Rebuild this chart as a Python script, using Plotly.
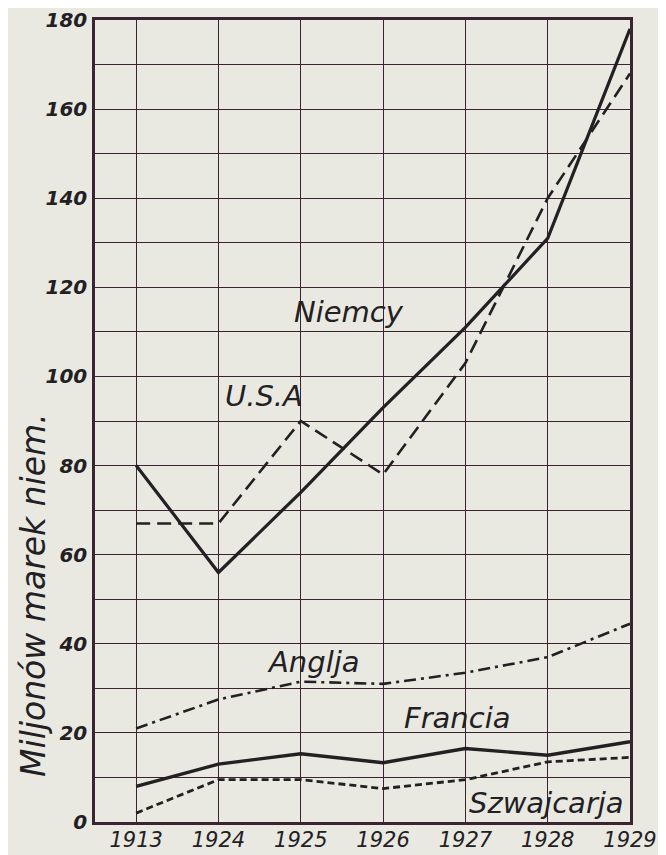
import plotly.graph_objects as go

years = ["1913", "1924", "1925", "1926", "1927", "1928", "1929"]
niemcy = [80, 56, 74, 93, 111, 131, 178]
usa = [67, 67, 90, 78, 103, 140, 168]
anglja = [21, 27.5, 31.5, 31, 33.5, 37, 44.5]
francia = [8, 13, 15.3, 13.3, 16.5, 15, 18]
szwajcarja = [2, 9.5, 9.5, 7.5, 9.5, 13.5, 14.5]

y_ticks = [0, 20, 40, 60, 80, 100, 120, 140, 160, 180]

labels = [
    ("Niemcy", 2.59, 114.5),
    ("U.S.A", 1.55, 95.5),
    ("Anglja", 2.15, 36),
    ("Francia", 3.9, 23.3),
    ("Szwajcarja", 4.98, 4.3),
]

ink = "#222022"
grid = "#3a2432"
paper_bg = "#e9e9e2"

fig = go.Figure()
series = [
    (niemcy, "solid", 3.2),
    (usa, "14px,7px", 2.6),
    (anglja, "12px,5px,3px,5px", 2.6),
    (francia, "solid", 3.4),
    (szwajcarja, "7px,4px", 2.8),
]
for vals, dash, w in series:
    fig.add_trace(go.Scatter(x=years, y=vals, mode="lines",
                             line=dict(color=ink, width=w, dash=dash),
                             showlegend=False, hoverinfo="skip"))

for text, xp, yp in labels:
    fig.add_annotation(x=xp, y=yp, xref="x", yref="y", text=text, showarrow=False,
                       font=dict(family="DejaVu Sans", size=29, color=ink, style="italic"))

fig.add_annotation(x=-0.116, y=0.283, xref="paper", yref="paper",
                   xanchor="center", yanchor="middle",
                   text="Miljonów marek niem.", textangle=-90, showarrow=False,
                   font=dict(family="DejaVu Sans", size=33, color=ink, style="italic"))

fig.update_xaxes(type="category", range=[-0.5, 6], tickvals=years, ticktext=years,
                 automargin=False,
                 showgrid=True, gridcolor=grid, gridwidth=1.2,
                 showline=True, linecolor=grid, linewidth=2.5, mirror=True,
                 ticks="", zeroline=False, ticklabelstandoff=-3,
                 tickfont=dict(family="DejaVu Sans", size=21, color=ink, style="italic"))
fig.update_yaxes(range=[0, 180], tickvals=y_ticks, automargin=False,
                 showgrid=True, gridcolor=grid, gridwidth=1.2,
                 minor=dict(dtick=10, showgrid=True, gridcolor=grid, gridwidth=1.2),
                 showline=True, linecolor=grid, linewidth=2.5, mirror=True,
                 ticks="", zeroline=False, ticklabelstandoff=1,
                 tickfont=dict(family="DejaVu Sans", size=20, color=ink, style="italic", weight="bold"))

fig.update_layout(width=658, height=847,
                  margin=dict(l=87, r=36, t=12, b=33),
                  paper_bgcolor=paper_bg, plot_bgcolor=paper_bg)

fig.write_html("out.html")
